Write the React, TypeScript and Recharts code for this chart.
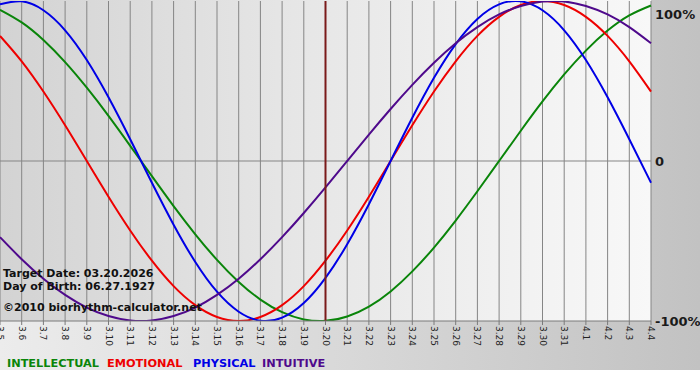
import React from "react";
import { LineChart, Line, XAxis, YAxis, CartesianGrid, ReferenceLine } from "recharts";

const days = [
  "3.5", "3.6", "3.7", "3.8", "3.9", "3.10", "3.11", "3.12", "3.13", "3.14",
  "3.15", "3.16", "3.17", "3.18", "3.19", "3.20", "3.21", "3.22", "3.23", "3.24",
  "3.25", "3.26", "3.27", "3.28", "3.29", "3.30", "3.31", "4.1", "4.2", "4.3", "4.4",
];

const physical = [
  0.979, 0.998, 0.942, 0.817, 0.631, 0.398, 0.136, -0.136, -0.398, -0.631,
  -0.817, -0.942, -0.998, -0.979, -0.888, -0.731, -0.52, -0.27, 0, 0.27,
  0.52, 0.731, 0.888, 0.979, 0.998, 0.942, 0.817, 0.631, 0.398, 0.136, -0.136,
];

const emotional = [
  0.782, 0.623, 0.434, 0.223, 0, -0.223, -0.434, -0.623, -0.782, -0.901,
  -0.975, -1, -0.975, -0.901, -0.782, -0.623, -0.434, -0.223, 0, 0.223,
  0.434, 0.623, 0.782, 0.901, 0.975, 1, 0.975, 0.901, 0.782, 0.623, 0.434,
];

const intellectual = [
  0.945, 0.866, 0.756, 0.618, 0.458, 0.282, 0.095, -0.095, -0.282, -0.458,
  -0.618, -0.756, -0.866, -0.945, -0.99, -0.999, -0.972, -0.91, -0.815, -0.69,
  -0.541, -0.372, -0.189, 0, 0.189, 0.372, 0.541, 0.69, 0.815, 0.91, 0.972,
];

const intuitive = [
  -0.476, -0.614, -0.736, -0.837, -0.916, -0.969, -0.997, -0.997, -0.969, -0.916,
  -0.837, -0.736, -0.614, -0.476, -0.325, -0.165, 0, 0.165, 0.325, 0.476,
  0.614, 0.736, 0.837, 0.916, 0.969, 0.997, 0.997, 0.969, 0.916, 0.837, 0.736,
];

const yTicks = [-1, 0, 1];
const yTickLabels: Record<string, string> = { "-1": "-100%", "0": "0", "1": "100%" };
const targetDay = "3.20";

const legendItems = [
  { name: "INTELLECTUAL", color: "#0a850a", x: 7 },
  { name: "EMOTIONAL", color: "#ee0000", x: 107 },
  { name: "PHYSICAL", color: "#0000e6", x: 193 },
  { name: "INTUITIVE", color: "#4f0a8c", x: 262 },
];

const infoLines = [
  { text: "Target Date: 03.20.2026", y: 277 },
  { text: "Day of Birth: 06.27.1927", y: 290 },
  { text: "\u00a92010 biorhythm-calculator.net", y: 311 },
];

const data = days.map((d, i) => ({
  day: d,
  intellectual: intellectual[i],
  emotional: emotional[i],
  physical: physical[i],
  intuitive: intuitive[i],
}));

const FONT = "'DejaVu Sans', Verdana, sans-serif";

const XTick = (props: any) => {
  const { x, y, payload } = props;
  return (
    <g transform={`translate(${x},${y})`}>
      <text
        transform="rotate(90)"
        x={0}
        y={3}
        textAnchor="start"
        fontFamily={FONT}
        fontSize={9}
        fill="#222"
      >
        {payload.value}
      </text>
    </g>
  );
};

const YTick = (props: any) => {
  const { x, y, payload } = props;
  const yy = y < 10 ? y + 5 : y;
  return (
    <text
      x={x}
      y={yy}
      dy={5}
      textAnchor="start"
      fontFamily={FONT}
      fontWeight="bold"
      fontSize={13}
      fill="#1a1a1a"
    >
      {yTickLabels[String(payload.value)]}
    </text>
  );
};

export default function App() {
  return (
    <div
      style={{
        position: "absolute",
        left: 0,
        top: 0,
        width: 700,
        height: 380,
        background: "#ffffff",
        overflow: "hidden",
      }}
    >
      <div
        style={{
          position: "absolute",
          left: 0,
          top: 0,
          width: 700,
          height: 370,
          background: "linear-gradient(to right, #ececec, #d8d8d8 50%, #c2c2c2)",
        }}
      />
      <div
        style={{
          position: "absolute",
          left: 0,
          top: 0,
          width: 651,
          height: 321,
          background: "linear-gradient(to right, #d3d3d3, #e6e6e6 45%, #f8f8f8)",
        }}
      />
      <div style={{ position: "absolute", left: 0, top: 0 }}>
        <LineChart
          width={700}
          height={380}
          data={data}
          margin={{ top: 1, right: 0, bottom: 0, left: 0 }}
        >
          <CartesianGrid vertical={true} horizontal={false} stroke="#858585" strokeWidth={1} />
          <XAxis
            dataKey="day"
            interval={0}
            tick={<XTick />}
            tickSize={4}
            tickMargin={1}
            axisLine={{ stroke: "#7a7a7a" }}
            tickLine={{ stroke: "#7a7a7a" }}
            height={59}
          />
          <YAxis
            orientation="right"
            domain={[-1, 1]}
            ticks={yTicks}
            width={49}
            axisLine={false}
            tickLine={false}
            tickSize={0}
            tickMargin={4}
            tick={<YTick />}
            allowDataOverflow={true}
          />
          <ReferenceLine y={0} stroke="#858585" strokeWidth={1} />
          <Line type="natural" dataKey="intellectual" stroke="#0a850a" strokeWidth={2} dot={false} isAnimationActive={false} />
          <Line type="natural" dataKey="emotional" stroke="#ee0000" strokeWidth={2} dot={false} isAnimationActive={false} />
          <Line type="natural" dataKey="physical" stroke="#0000e6" strokeWidth={2} dot={false} isAnimationActive={false} />
          <Line type="natural" dataKey="intuitive" stroke="#4f0a8c" strokeWidth={2} dot={false} isAnimationActive={false} />
          <ReferenceLine x={targetDay} stroke="#7a1a1a" strokeWidth={2} />
        </LineChart>
      </div>
      <svg
        width={700}
        height={380}
        style={{ position: "absolute", left: 0, top: 0, pointerEvents: "none" }}
      >
        {infoLines.map((l) => (
          <text
            key={l.text}
            x={3}
            y={l.y}
            fontFamily={FONT}
            fontWeight="bold"
            fontSize={11}
            fill="#111"
          >
            {l.text}
          </text>
        ))}
        {legendItems.map((it) => (
          <text
            key={it.name}
            x={it.x}
            y={367}
            fontFamily={FONT}
            fontWeight="bold"
            fontSize={11.3}
            fill={it.color}
          >
            {it.name}
          </text>
        ))}
      </svg>
    </div>
  );
}
